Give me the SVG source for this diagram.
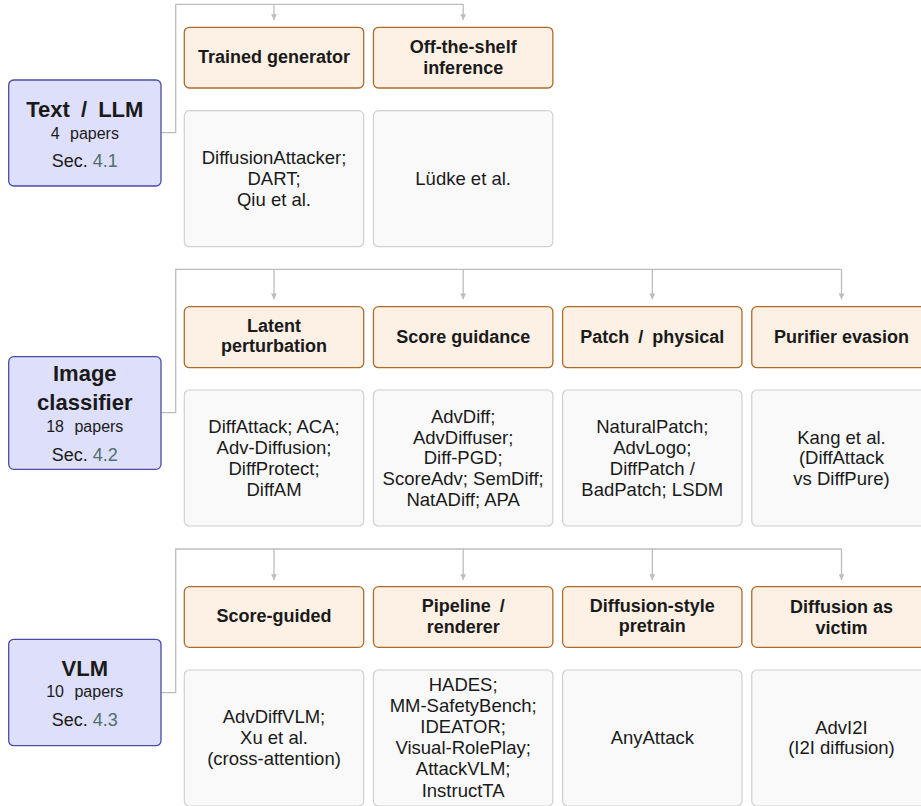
<svg xmlns="http://www.w3.org/2000/svg" width="921" height="806" viewBox="0 0 921 806">
<style>
text{font-family:"Liberation Sans",Arial,sans-serif;fill:#1a1a1a;text-anchor:middle}
.root rect{fill:#dedffb;stroke:#4b4ba8;stroke-width:1.3}
.hdr rect{fill:#fdf0e4;stroke:#b06a28;stroke-width:1.3}
.cnt rect{fill:#f9f9f9;stroke:#d0d0d0;stroke-width:1.2}
.rt{font-size:22px;font-weight:bold;word-spacing:5px}
.np{font-size:16px;word-spacing:6px}
.sec{font-size:18px}
.ref{fill:#4f6f6f}
.ht{font-size:18px;font-weight:bold}
.ct{font-size:18.5px}
.conn path{fill:none;stroke:#bdbdbd;stroke-width:1.3}
</style>
<defs>
<marker id="arr" viewBox="0 0 10 10" refX="10" refY="5" markerWidth="4.5" markerHeight="4.5" orient="auto" markerUnits="strokeWidth">
<path d="M0,0 L10,5 L0,10 z" fill="#bdbdbd"/>
</marker>
</defs>
<rect width="921" height="806" fill="#ffffff"/>

<g id="connectors" class="conn">
<path d="M161,132.7 H175.7 V4.3 H463.2"/>
<path d="M274,4.3 V20" marker-end="url(#arr)"/>
<path d="M463.2,4.3 V20" marker-end="url(#arr)"/>
<path d="M161,412.7 H175.7 V269.3 H841.5"/>
<path d="M274,269.3 V299.3" marker-end="url(#arr)"/>
<path d="M463.2,269.3 V299.3" marker-end="url(#arr)"/>
<path d="M652.3,269.3 V299.3" marker-end="url(#arr)"/>
<path d="M841.5,269.3 V299.3" marker-end="url(#arr)"/>
<path d="M161,692.7 H175.7 V549 H841.5"/>
<path d="M274,549 V580" marker-end="url(#arr)"/>
<path d="M463.2,549 V580" marker-end="url(#arr)"/>
<path d="M652.3,549 V580" marker-end="url(#arr)"/>
<path d="M841.5,549 V580" marker-end="url(#arr)"/>
</g>

<!-- Row 1 -->
<g id="root-text-llm" class="root">
<rect x="8.7" y="80" width="152.3" height="106" rx="5"/>
<text class="rt" x="84.8" y="116.7">Text / LLM</text>
<text class="np" x="84.8" y="139">4 papers</text>
<text class="sec" x="84.8" y="166.7">Sec. <tspan class="ref">4.1</tspan></text>
</g>
<g id="hdr-trained-generator" class="hdr">
<rect x="184.3" y="27.3" width="179.4" height="60.7" rx="5"/>
<text class="ht" x="274" y="63.2">Trained generator</text>
</g>
<g id="hdr-off-the-shelf" class="hdr">
<rect x="373.45" y="27.3" width="179.4" height="60.7" rx="5"/>
<text class="ht" x="463.15" y="53.2">Off-the-shelf</text>
<text class="ht" x="463.15" y="73.7">inference</text>
</g>
<g id="cnt-trained-generator" class="cnt">
<rect x="184.3" y="110.7" width="179.4" height="136" rx="5"/>
<text class="ct" x="274" y="164.2">DiffusionAttacker;</text>
<text class="ct" x="274" y="185">DART;</text>
<text class="ct" x="274" y="205.8">Qiu et al.</text>
</g>
<g id="cnt-off-the-shelf" class="cnt">
<rect x="373.45" y="110.7" width="179.4" height="136" rx="5"/>
<text class="ct" x="463.15" y="185">Lüdke et al.</text>
</g>

<!-- Row 2 -->
<g id="root-image-classifier" class="root">
<rect x="8.7" y="356.7" width="152.3" height="112.6" rx="5"/>
<text class="rt" x="84.8" y="380.7">Image</text>
<text class="rt" x="84.8" y="410.3">classifier</text>
<text class="np" x="84.8" y="431.7">18 papers</text>
<text class="sec" x="84.8" y="460.7">Sec. <tspan class="ref">4.2</tspan></text>
</g>
<g id="hdr-latent-perturbation" class="hdr">
<rect x="184.3" y="306.7" width="179.4" height="61" rx="5"/>
<text class="ht" x="274" y="331.5">Latent</text>
<text class="ht" x="274" y="352.2">perturbation</text>
</g>
<g id="hdr-score-guidance" class="hdr">
<rect x="373.45" y="306.7" width="179.4" height="61" rx="5"/>
<text class="ht" x="463.15" y="342.5">Score guidance</text>
</g>
<g id="hdr-patch-physical" class="hdr">
<rect x="562.6" y="306.7" width="179.4" height="61" rx="5"/>
<text class="ht" x="652.3" y="342.5" style="word-spacing:4px">Patch / physical</text>
</g>
<g id="hdr-purifier-evasion" class="hdr">
<rect x="751.75" y="306.7" width="179.4" height="61" rx="5"/>
<text class="ht" x="841.45" y="343">Purifier evasion</text>
</g>
<g id="cnt-latent-perturbation" class="cnt">
<rect x="184.3" y="390" width="179.4" height="136" rx="5"/>
<text class="ct" x="274" y="433.1">DiffAttack; ACA;</text>
<text class="ct" x="274" y="453.9">Adv-Diffusion;</text>
<text class="ct" x="274" y="474.7">DiffProtect;</text>
<text class="ct" x="274" y="495.5">DiffAM</text>
</g>
<g id="cnt-score-guidance" class="cnt">
<rect x="373.45" y="390" width="179.4" height="136" rx="5"/>
<text class="ct" x="463.15" y="422.7">AdvDiff;</text>
<text class="ct" x="463.15" y="443.5">AdvDiffuser;</text>
<text class="ct" x="463.15" y="464.3">Diff-PGD;</text>
<text class="ct" x="463.15" y="485.1">ScoreAdv; SemDiff;</text>
<text class="ct" x="463.15" y="505.9">NatADiff; APA</text>
</g>
<g id="cnt-patch-physical" class="cnt">
<rect x="562.6" y="390" width="179.4" height="136" rx="5"/>
<text class="ct" x="652.3" y="433.1">NaturalPatch;</text>
<text class="ct" x="652.3" y="453.9">AdvLogo;</text>
<text class="ct" x="652.3" y="474.7">DiffPatch /</text>
<text class="ct" x="652.3" y="495.5">BadPatch; LSDM</text>
</g>
<g id="cnt-purifier-evasion" class="cnt">
<rect x="751.75" y="390" width="179.4" height="136" rx="5"/>
<text class="ct" x="841.45" y="443.5">Kang et al.</text>
<text class="ct" x="841.45" y="464.3">(DiffAttack</text>
<text class="ct" x="841.45" y="485.1">vs DiffPure)</text>
</g>

<!-- Row 3 -->
<g id="root-vlm" class="root">
<rect x="8.7" y="639.3" width="152.3" height="106.4" rx="5"/>
<text class="rt" x="84.8" y="675.7">VLM</text>
<text class="np" x="84.8" y="697.3">10 papers</text>
<text class="sec" x="84.8" y="726">Sec. <tspan class="ref">4.3</tspan></text>
</g>
<g id="hdr-score-guided" class="hdr">
<rect x="184.3" y="586.7" width="179.4" height="60.6" rx="5"/>
<text class="ht" x="274" y="622.3">Score-guided</text>
</g>
<g id="hdr-pipeline-renderer" class="hdr">
<rect x="373.45" y="586.7" width="179.4" height="60.6" rx="5"/>
<text class="ht" x="463.15" y="611.8" style="word-spacing:4px">Pipeline /</text>
<text class="ht" x="463.15" y="632.5">renderer</text>
</g>
<g id="hdr-diffusion-style-pretrain" class="hdr">
<rect x="562.6" y="586.7" width="179.4" height="60.6" rx="5"/>
<text class="ht" x="652.3" y="611.5">Diffusion-style</text>
<text class="ht" x="652.3" y="632.2">pretrain</text>
</g>
<g id="hdr-diffusion-as-victim" class="hdr">
<rect x="751.75" y="586.7" width="179.4" height="60.6" rx="5"/>
<text class="ht" x="841.45" y="612.7">Diffusion as</text>
<text class="ht" x="841.45" y="633.7">victim</text>
</g>
<g id="cnt-score-guided" class="cnt">
<rect x="184.3" y="670" width="179.4" height="136" rx="5"/>
<text class="ct" x="274" y="723.2">AdvDiffVLM;</text>
<text class="ct" x="274" y="744">Xu et al.</text>
<text class="ct" x="274" y="764.8">(cross-attention)</text>
</g>
<g id="cnt-pipeline-renderer" class="cnt">
<rect x="373.45" y="670" width="179.4" height="136" rx="5"/>
<text class="ct" x="463.15" y="691">HADES;</text>
<text class="ct" x="463.15" y="712">MM-SafetyBench;</text>
<text class="ct" x="463.15" y="733">IDEATOR;</text>
<text class="ct" x="463.15" y="754.2">Visual-RolePlay;</text>
<text class="ct" x="463.15" y="775.4">AttackVLM;</text>
<text class="ct" x="463.15" y="796.6">InstructTA</text>
</g>
<g id="cnt-diffusion-style-pretrain" class="cnt">
<rect x="562.6" y="670" width="179.4" height="136" rx="5"/>
<text class="ct" x="652.3" y="744">AnyAttack</text>
</g>
<g id="cnt-diffusion-as-victim" class="cnt">
<rect x="751.75" y="670" width="179.4" height="136" rx="5"/>
<text class="ct" x="841.45" y="733.6">AdvI2I</text>
<text class="ct" x="841.45" y="754.4">(I2I diffusion)</text>
</g>
</svg>
